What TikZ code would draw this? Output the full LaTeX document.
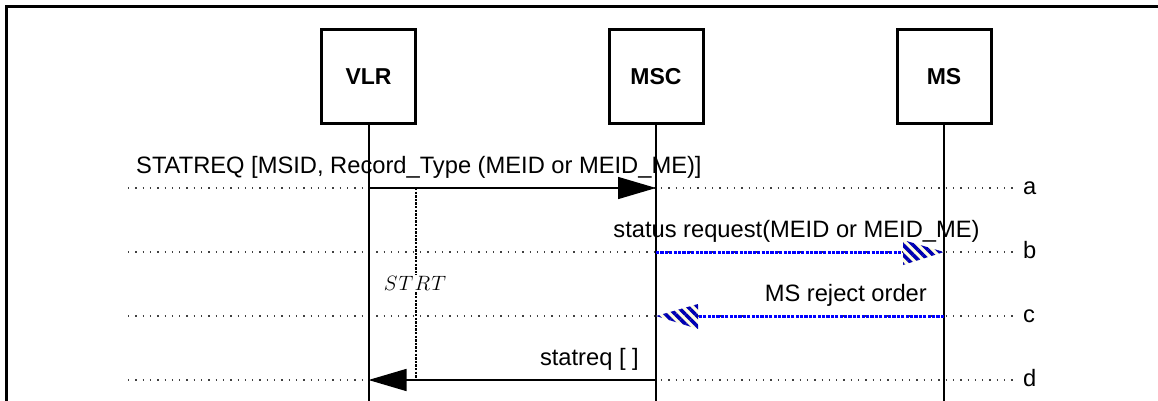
\documentclass[tikz,border=0pt]{standalone}
\usepackage{fontspec}
\setmainfont{Liberation Sans}
\usetikzlibrary{arrows.meta,patterns.meta}
\begin{document}
\begin{tikzpicture}[x=1pt,y=-1pt,
  entity/.style={draw,line width=3pt,minimum size=94pt,inner sep=0pt,
    font=\fontsize{23}{26}\selectfont\bfseries},
  lifeline/.style={line width=2pt},
  frameline/.style={line width=3pt},
  rowline/.style={black!75,line width=1.3pt,dash pattern=on 1.3pt off 6pt},
  rowlabel/.style={anchor=base west,inner sep=0pt,font=\fontsize{23.7}{26}\selectfont},
  msglabel/.style={inner sep=0pt,font=\fontsize{23.7}{26}\selectfont},
  solidmsg/.style={line width=1.5pt,-{Triangle[length=38pt,width=22pt]}},
  bluemsg/.style={blue,line width=3pt,dash pattern=on 3.2pt off 1.2pt},
  hatchbg/.style={fill=yellow!12},
  hatch/.style={pattern={Lines[angle=-45,distance=7pt,line width=3.6pt]},pattern color=blue!70!black},
  timer/.style={line width=2.6pt,dash pattern=on 2.4pt off 1.2pt},
  timerlabel/.style={fill=white,inner sep=1pt,font=\fontsize{20}{22}\selectfont}
]
\useasboundingbox (0,0) rectangle (1158,401);
% frame
\coordinate (fTL) at (6.5,6.5);
\coordinate (fTR) at (1158,6.5);
\coordinate (fBL) at (6.5,401);
\draw[frameline] (fTR) -- (fTL) -- (fBL);

% entities
\node[entity] (vlr) at (368.5,76.5) {VLR};
\node[entity] (msc) at (656,76.5) {MSC};
\node[entity] (ms)  at (944,76.5) {MS};
\coordinate (vlrE) at (368.5,401);
\coordinate (mscE) at (656,401);
\coordinate (msE)  at (944,401);

% row guide lines
\foreach \r/\y in {a/188,b/252,c/316,d/380}{
  \coordinate (row\r L) at (128,\y);
  \coordinate (row\r R) at (1016,\y);
  \draw[rowline] (row\r L) -- (row\r R);
  \node[rowlabel] (lab\r) at (1023,\y+6) {\r};
}

% lifelines
\draw[lifeline] (vlr.south) -- (vlrE);
\draw[lifeline] (msc.south) -- (mscE);
\draw[lifeline] (ms.south) -- (msE);

% message end points
\coordinate (vlrA) at (368.5,188);
\coordinate (mscA) at (656,188);
\coordinate (mscB) at (656,252);
\coordinate (msB)  at (944,252);
\coordinate (baseB) at (902,252);
\coordinate (msC)  at (944,316);
\coordinate (mscC) at (656,316);
\coordinate (baseC) at (698,316);
\coordinate (mscD) at (656,380);
\coordinate (vlrD) at (368.5,380);

% timer
\coordinate (tTop) at (416,188);
\coordinate (tBot) at (416,380);
\draw[timer] (tTop) -- (tBot);
\node[timerlabel] (strt) at (415,283) {$S\mkern1mu T\mkern1mu R\mkern1mu T$};

% a
\draw[solidmsg] (vlrA) -- (mscA);
\node[msglabel,anchor=base west] (ta) at (136,173) {STATREQ [MSID, Record\_Type (MEID or MEID\_ME)]};

% b
\draw[bluemsg] (mscB) -- (baseB);
\fill[hatchbg] (msB) -- ++(-41,-12) -- ++(0,25) -- cycle;
\fill[hatch] (msB) -- ++(-41,-12) -- ++(0,25) -- cycle;
\node[msglabel,anchor=base] (tb) at (796.5,237) {status request(MEID or MEID\_ME)};

% c
\draw[bluemsg] (msC) -- (baseC);
\fill[hatchbg] (mscC) -- ++(42,-12) -- ++(0,25) -- cycle;
\fill[hatch] (mscC) -- ++(42,-12) -- ++(0,25) -- cycle;
\node[msglabel,anchor=base east] (tc) at (927,301) {MS reject order};

% d
\draw[solidmsg] (mscD) -- (vlrD);
\node[msglabel,anchor=base east] (td) at (639,365) {statreq [ ]};
\end{tikzpicture}
\end{document}
